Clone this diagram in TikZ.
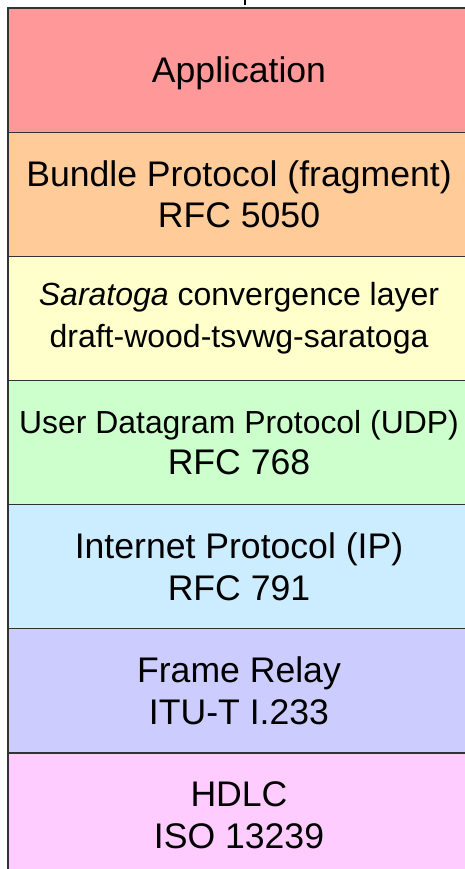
\documentclass[tikz,border=0pt]{standalone}
\usepackage{fontspec}
\setmainfont{Liberation Sans}
\definecolor{appred}{RGB}{255,153,153}
\definecolor{bporange}{RGB}{255,204,153}
\definecolor{saryellow}{RGB}{255,255,204}
\definecolor{udpgreen}{RGB}{204,255,204}
\definecolor{ipblue}{RGB}{204,236,255}
\definecolor{frviolet}{RGB}{204,204,255}
\definecolor{hdlcpink}{RGB}{255,204,255}
\newcommand{\smallline}{\fontsize{31.9}{41.5}\selectfont}
\tikzset{layer/.style={draw=black!80,line width=1.2pt,minimum width=462pt,
  minimum height=124.17pt,anchor=north west,inner sep=0pt,outer sep=0pt,
  align=center,font=\fontsize{35.6}{41.5}\selectfont}}
\begin{document}
\begin{tikzpicture}[x=1pt,y=1pt]
\useasboundingbox (0,0) rectangle (464,869);
\coordinate (tick) at (245,869);
\draw[line width=2.5pt] (tick)--++(0,-5.5);
\node[layer,fill=appred,text depth=0pt] (app) at (8,861) {Application};
\node[layer,fill=bporange] (bp) at (app.south west) {Bundle Protocol (fragment)\\RFC 5050};
\node[layer,fill=saryellow,font=\fontsize{32}{41.5}\selectfont] (sar) at (bp.south west) {\textit{Saratoga} convergence layer\\draft-wood-tsvwg-saratoga};
\node[layer,fill=udpgreen] (udp) at (sar.south west) {{\smallline User Datagram Protocol (UDP)}\\RFC 768};
\node[layer,fill=ipblue] (ip) at (udp.south west) {Internet Protocol (IP)\\RFC 791};
\node[layer,fill=frviolet] (fr) at (ip.south west) {Frame Relay\\ITU-T I.233};
\node[layer,fill=hdlcpink] (hdlc) at (fr.south west) {HDLC\\ISO 13239};
\end{tikzpicture}
\end{document}
